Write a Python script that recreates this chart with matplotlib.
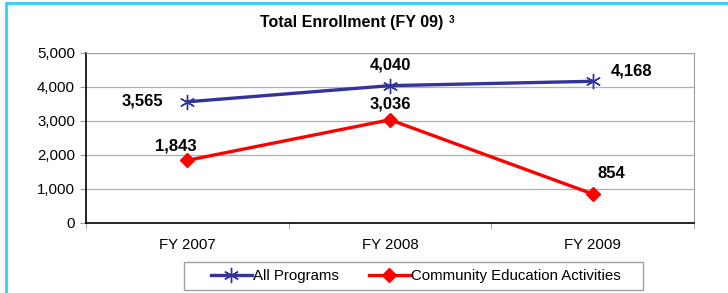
import matplotlib.pyplot as plt
from matplotlib.patches import Rectangle
from matplotlib.ticker import FuncFormatter

plt.rcParams["font.family"] = ["Liberation Sans", "DejaVu Sans"]

# --- Datos ---
years = ["FY 2007", "FY 2008", "FY 2009"]
all_programs = [3565, 4040, 4168]
community_ed = [1843, 3036, 854]

# label offsets in pixels (dx, dy)
off_all = [(-45, 1), (0, 21), (39, 10)]
off_comm = [(-12, 14), (0, 16), (19, 20)]

fig = plt.figure(figsize=(7.28, 2.93), dpi=100)
ax = fig.add_axes([86/728, 1-223/293, 608/728, 170/293])

x = list(range(len(years)))
ax.plot(x, all_programs, color="#333399", linewidth=2.4, marker=(6, 2, 0),
        markersize=11, markeredgewidth=1.0, label="All Programs", zorder=3)
ax.plot(x, community_ed, color="#FF0000", linewidth=2.4, marker="D",
        markersize=7, label="Community Education Activities", zorder=3)

for xi, v, (dx, dy) in zip(x, all_programs, off_all):
    ax.annotate(f"{v:,}", (xi, v), xytext=(dx, dy), textcoords="offset pixels",
                ha="center", va="center", fontsize=12, fontweight="bold")
for xi, v, (dx, dy) in zip(x, community_ed, off_comm):
    ax.annotate(f"{v:,}", (xi, v), xytext=(dx, dy), textcoords="offset pixels",
                ha="center", va="center", fontsize=12, fontweight="bold")

ax.set_xlim(-0.5, 2.5)
ax.set_ylim(0, 5000)
ax.set_yticks(range(0, 5001, 1000))
ax.yaxis.set_major_formatter(FuncFormatter(lambda v, p: f"{int(v):,}"))
ax.set_xticks(x)
ax.set_xticklabels(years)
ax.set_xticks([-0.5, 0.5, 1.5, 2.5], minor=True)
ax.tick_params(axis="x", which="major", length=0, labelsize=10.8, pad=11)
ax.tick_params(axis="x", which="minor", length=4, color="#999999")
ax.tick_params(axis="y", length=4, color="#999999", labelsize=10.8, pad=4)
ax.grid(axis="y", color="#b0b0b0", linewidth=0.9)
ax.set_axisbelow(True)
for s in ["top", "right"]:
    ax.spines[s].set_color("#a0a0a0")
for s in ["left", "bottom"]:
    ax.spines[s].set_color("black")
    ax.spines[s].set_linewidth(1.2)

# legend (frame drawn separately, Excel-style wide box)
leg = fig.legend(loc="center", bbox_to_anchor=(416/728, 1-276/293), ncol=2,
                 fontsize=10.8, frameon=False,
                 handlelength=2.7, handletextpad=0.1, columnspacing=2.0,
                 borderpad=0.3)
fig.patches.append(Rectangle((184/728, 1-290/293), 459/728, 28/293,
                             transform=fig.transFigure, fill=False,
                             edgecolor="#a0a0a0", linewidth=1.0))

title = fig.text(352/728, 1-22/293, "Total Enrollment (FY 09)", ha="center",
                 va="center", fontsize=11.5, fontweight="bold")
ax.annotate("3", xy=(1, 1), xycoords=title, xytext=(4, -4),
            textcoords="offset points", fontsize=7, fontweight="bold",
            ha="left", va="center", annotation_clip=False)

# cyan frame
fig.patches.append(Rectangle((6/728, -0.1), 1.2, 1.1 - 3/293,
                             transform=fig.transFigure, fill=False,
                             edgecolor="#33CCFF", linewidth=2.0, zorder=0))

fig.savefig("out.png", dpi=100)
